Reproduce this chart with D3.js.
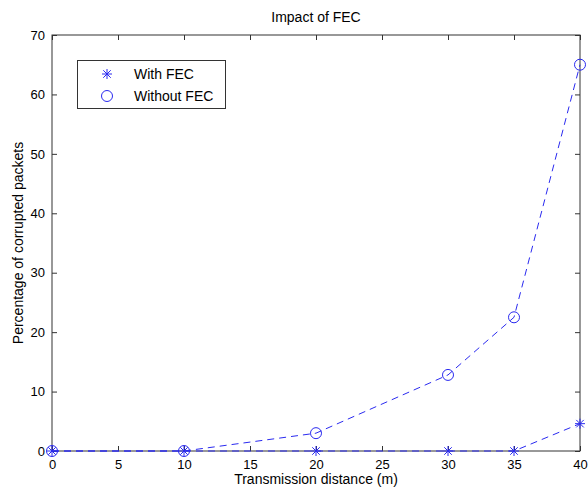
<!DOCTYPE html>
<html><head><meta charset="utf-8">
<script src="https://cdn.jsdelivr.net/npm/d3@7"></script>
<style>body{margin:0;background:#fff;} text{font-family:"Liberation Sans",Arial,sans-serif;}</style>
</head><body>
<svg id="c" width="588" height="489"></svg>
<script>
const distances = [0, 10, 20, 30, 35, 40];
const withFEC = [0, 0, 0, 0, 0, 4.6];
const withoutFEC = [0, 0, 3, 12.8, 22.5, 65];
const xTicks = [0, 5, 10, 15, 20, 25, 30, 35, 40];
const yTicks = [0, 10, 20, 30, 40, 50, 60, 70];
const seriesNames = ["With FEC", "Without FEC"];

const svg = d3.select("#c");
const L = 52, R = 580, T = 35, B = 451;
const x = d3.scaleLinear().domain([0, 40]).range([L, R]);
const y = d3.scaleLinear().domain([0, 70]).range([B, T]);
const blue = "#2a2af0";
const axisCol = "#333";
const tfs = 13, lfs = 14;

// box
svg.append("rect").attr("x", L).attr("y", T).attr("width", R - L).attr("height", B - T)
  .attr("fill", "none").attr("stroke", axisCol).attr("stroke-width", 1);

// axes with inward ticks
const xb = svg.append("g").attr("transform", `translate(0,${B})`)
  .call(d3.axisBottom(x).tickValues(xTicks).tickSizeInner(-5).tickSizeOuter(0));
const xt = svg.append("g").attr("transform", `translate(0,${T})`)
  .call(d3.axisTop(x).tickValues(xTicks).tickSizeInner(-5).tickSizeOuter(0).tickFormat(""));
const yl = svg.append("g").attr("transform", `translate(${L},0)`)
  .call(d3.axisLeft(y).tickValues(yTicks).tickSizeInner(-5).tickSizeOuter(0));
const yr = svg.append("g").attr("transform", `translate(${R},0)`)
  .call(d3.axisRight(y).tickValues(yTicks).tickSizeInner(-5).tickSizeOuter(0).tickFormat(""));
[xb, xt, yl, yr].forEach(g => {
  g.select(".domain").remove();
  g.selectAll("line").attr("stroke", axisCol);
  g.selectAll("text").attr("font-size", tfs).attr("fill", "#000")
    .attr("font-family", "Liberation Sans, Arial, sans-serif");
});
yl.selectAll("text").attr("x", -7);
xb.selectAll("text").attr("y", 18).attr("dy", null);

// lines
const line = d3.line().x((d, i) => x(distances[i])).y(d => y(d));
[withFEC, withoutFEC].forEach(s => {
  svg.append("path").datum(s).attr("d", line).attr("fill", "none")
    .attr("stroke", blue).attr("stroke-width", 1).attr("stroke-dasharray", "7,5");
});

// markers
function star(g, cx, cy, r) {
  const p = g.append("g").attr("stroke", blue).attr("stroke-width", 1);
  p.append("line").attr("x1", cx - r).attr("x2", cx + r).attr("y1", cy).attr("y2", cy);
  p.append("line").attr("x1", cx).attr("x2", cx).attr("y1", cy - r).attr("y2", cy + r);
  const k = r * 0.75;
  p.append("line").attr("x1", cx - k).attr("x2", cx + k).attr("y1", cy - k).attr("y2", cy + k);
  p.append("line").attr("x1", cx - k).attr("x2", cx + k).attr("y1", cy + k).attr("y2", cy - k);
}
withFEC.forEach((v, i) => star(svg, x(distances[i]), y(v), 5));
withoutFEC.forEach((v, i) => svg.append("circle").attr("cx", x(distances[i])).attr("cy", y(v))
  .attr("r", 5.5).attr("fill", "none").attr("stroke", blue).attr("stroke-width", 1));

// legend
svg.append("rect").attr("x", 77.5).attr("y", 60.5).attr("width", 148).attr("height", 48)
  .attr("fill", "#fff").attr("stroke", axisCol).attr("stroke-width", 1);
star(svg, 107, 74, 5);
svg.append("circle").attr("cx", 107).attr("cy", 96).attr("r", 5.5).attr("fill", "none").attr("stroke", blue);
svg.append("text").attr("x", 134).attr("y", 79).attr("font-size", lfs).text(seriesNames[0]);
svg.append("text").attr("x", 134).attr("y", 101).attr("font-size", lfs).text(seriesNames[1]);

// titles
svg.append("text").attr("x", (L + R) / 2).attr("y", 22).attr("text-anchor", "middle")
  .attr("font-size", lfs).text("Impact of FEC");
svg.append("text").attr("x", (L + R) / 2).attr("y", 484).attr("text-anchor", "middle")
  .attr("font-size", lfs).text("Transmission distance (m)");
svg.append("text").attr("transform", `translate(23,${(T + B) / 2}) rotate(-90)`).attr("text-anchor", "middle")
  .attr("font-size", lfs).text("Percentage of corrupted packets");
</script>
</body></html>
